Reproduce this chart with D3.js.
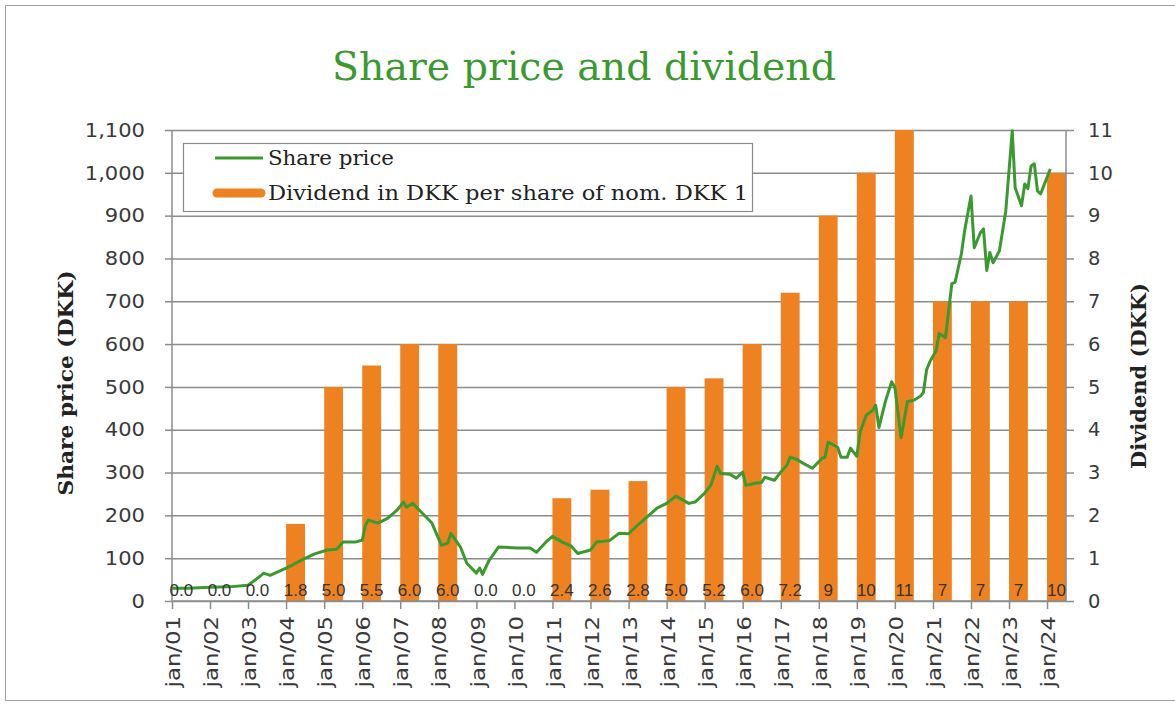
<!DOCTYPE html>
<html><head><meta charset="utf-8">
<script src="https://cdn.jsdelivr.net/npm/d3@7"></script>
<style>body{margin:0;background:#fff;overflow:hidden}</style>
</head><body>
<svg id="c" width="1175" height="708"></svg>
<script>
// ---- data ----
const years = [2001,2002,2003,2004,2005,2006,2007,2008,2009,2010,2011,2012,2013,2014,2015,2016,2017,2018,2019,2020,2021,2022,2023,2024];
const dividends = [0,0,0,1.8,5.0,5.5,6.0,6.0,0,0,2.4,2.6,2.8,5.0,5.2,6.0,7.2,9,10,11,7,7,7,10];
const dividendLabels = ["0.0","0.0","0.0","1.8","5.0","5.5","6.0","6.0","0.0","0.0","2.4","2.6","2.8","5.0","5.2","6.0","7.2","9","10","11","7","7","7","10"];
const xTickLabels = ["jan/01","jan/02","jan/03","jan/04","jan/05","jan/06","jan/07","jan/08","jan/09","jan/10","jan/11","jan/12","jan/13","jan/14","jan/15","jan/16","jan/17","jan/18","jan/19","jan/20","jan/21","jan/22","jan/23","jan/24"];
const leftTicks = [0,100,200,300,400,500,600,700,800,900,1000,1100];
const rightTicks = [0,1,2,3,4,5,6,7,8,9,10,11];
const priceDates = ["2001-01","2001-06","2002-01","2002-07","2003-01","2003-04","2003-06","2003-08","2004-01","2004-03","2004-06","2004-10","2005-02","2005-05","2005-07","2005-11","2006-01","2006-02","2006-03","2006-06","2006-09","2006-12","2007-02","2007-03","2007-05","2007-08","2007-11","2008-02","2008-04","2008-05","2008-08","2008-10","2009-01","2009-02","2009-03","2009-05","2009-08","2010-02","2010-06","2010-08","2010-11","2011-01","2011-04","2011-07","2011-09","2012-01","2012-03","2012-07","2012-10","2013-01","2013-04","2013-07","2013-10","2014-01","2014-04","2014-08","2014-10","2015-01","2015-03","2015-05","2015-06","2015-09","2015-11","2016-01","2016-02","2016-05","2016-07","2016-08","2016-11","2017-01","2017-03","2017-04","2017-06","2017-08","2017-11","2018-02","2018-03","2018-04","2018-07","2018-08","2018-10","2018-11","2019-01","2019-02","2019-04","2019-06","2019-07","2019-08","2019-10","2019-12","2020-01","2020-03","2020-05","2020-07","2020-09","2020-10","2020-11","2020-12","2021-02","2021-03","2021-05","2021-07","2021-08","2021-10","2021-11","2022-01","2022-02","2022-04","2022-05","2022-06","2022-07","2022-08","2022-10","2022-12","2023-02","2023-03","2023-05","2023-06","2023-07","2023-08","2023-09","2023-10","2023-11","2024-02"];
const priceValues = [30,30,32,33,37,53,65,60,77,84,96,110,119,121,138,138,142,177,189,182,193,212,231,219,228,205,182,130,135,158,126,88,65,77,62,94,126,124,124,114,138,151,138,128,111,119,138,141,158,157,178,197,217,228,245,228,231,252,270,315,298,296,287,301,270,275,277,289,282,301,317,336,331,322,310,333,336,371,359,336,336,357,338,394,434,445,457,405,465,512,499,381,466,469,478,487,540,558,585,625,615,741,744,811,865,946,825,860,869,772,814,790,818,911,1098,965,923,974,963,1016,1021,958,951,1009];

// ---- layout ----
const svg = d3.select("#c");
const L = 172, R = 1066, T = 130, B = 601;
const GRID = "#8c8c8c", ORANGE = "#EF8220", GREEN = "#3A9A30", TXT = "#3a3a3a";
const parse = d3.timeParse("%Y-%m");

const x = d3.scaleTime().domain([new Date(2001,0,1), new Date(2024,6,1)]).range([L, R]);
const yL = d3.scaleLinear().domain([0,1100]).range([B, T]);
const yR = d3.scaleLinear().domain([0,11]).range([B, T]);

// outer border
svg.append("rect").attr("x",5.5).attr("y",5.5).attr("width",1190).attr("height",695)
  .attr("fill","none").attr("stroke","#a0a0a0").attr("stroke-width",1);

// title
svg.append("text").attr("x",584).attr("y",80).attr("text-anchor","middle")
  .attr("font-family","DejaVu Serif").attr("font-size",39).attr("fill",GREEN)
  .attr("textLength",504).attr("lengthAdjust","spacingAndGlyphs")
  .text("Share price and dividend");

// gridlines
svg.append("g").attr("transform",`translate(${L},0)`)
  .call(d3.axisLeft(yL).tickValues(leftTicks).tickSize(-(R-L)).tickFormat(""))
  .call(g=>g.select(".domain").remove())
  .call(g=>g.selectAll("line").attr("stroke",GRID).attr("stroke-width",1.5));

// bars
svg.append("g").selectAll("rect").data(years).join("rect")
  .attr("x",(d)=>x(new Date(d,0,1)))
  .attr("width",(d)=>x(new Date(d,6,1))-x(new Date(d,0,1)))
  .attr("y",(d,i)=>yR(dividends[i]))
  .attr("height",(d,i)=>B-yR(dividends[i]))
  .attr("fill",ORANGE);

// left axis
const gl = svg.append("g").attr("transform",`translate(${L},0)`)
  .call(d3.axisLeft(yL).tickValues(leftTicks).tickSize(7).tickPadding(22).tickFormat(d3.format(",")));
gl.select(".domain").attr("stroke",GRID).attr("stroke-width",1.5).attr("d",`M0,${B}V${T}`);
gl.selectAll("line").attr("stroke",GRID).attr("stroke-width",1.5);
gl.selectAll("text").attr("font-family","DejaVu Sans").attr("font-size",19.5).attr("fill",TXT)
  .attr("x",0).attr("transform","translate(-27,0) scale(1.08,1)");

// right axis
const gr = svg.append("g").attr("transform",`translate(${R},0)`)
  .call(d3.axisRight(yR).tickValues(rightTicks).tickSize(8).tickPadding(14));
gr.select(".domain").attr("stroke",GRID).attr("stroke-width",1.5).attr("d",`M0,${B}V${T}`);
gr.selectAll("line").attr("stroke",GRID).attr("stroke-width",1.5);
gr.selectAll("text").attr("font-family","DejaVu Sans").attr("font-size",19.5).attr("fill",TXT);

// bottom axis
const gb = svg.append("g").attr("transform",`translate(0,${B})`)
  .call(d3.axisBottom(x).tickValues(years.map(d=>new Date(d,0,1))).tickSize(8)
    .tickFormat((d,i)=>xTickLabels[i]));
gb.select(".domain").attr("stroke",GRID).attr("stroke-width",1.5).attr("d",`M${L},0H${R}`);
gb.selectAll("line").attr("stroke",GRID).attr("stroke-width",1.5);
gb.selectAll("text").attr("font-family","DejaVu Sans").attr("font-size",19).attr("fill",TXT)
  .attr("text-anchor","end").attr("x",0).attr("y",0).attr("dy","0.35em")
  .attr("transform","translate(1,15) rotate(-90) scale(1.2,1)");

// share price line
const line = d3.line().x((d,i)=>x(parse(priceDates[i]))).y(d=>yL(d));
svg.append("path").datum(priceValues).attr("d",line)
  .attr("fill","none").attr("stroke",GREEN).attr("stroke-width",3).attr("stroke-linejoin","round");

// data labels
svg.append("g").selectAll("text").data(years).join("text")
  .attr("x",(d)=>(x(new Date(d,0,1))+x(new Date(d,6,1)))/2)
  .attr("y",596).attr("text-anchor","middle")
  .attr("font-family","Liberation Sans").attr("font-size",17).attr("fill","#333")
  .text((d,i)=>dividendLabels[i]);

// axis titles
svg.append("text").attr("transform","translate(66,383) rotate(-90)").attr("dy","0.35em")
  .attr("text-anchor","middle").attr("font-family","DejaVu Serif").attr("font-weight","bold")
  .attr("font-size",20.5).attr("fill","#222").attr("textLength",225).attr("lengthAdjust","spacingAndGlyphs")
  .text("Share price (DKK)");
svg.append("text").attr("transform","translate(1139,376) rotate(-90)").attr("dy","0.35em")
  .attr("text-anchor","middle").attr("font-family","DejaVu Serif").attr("font-weight","bold")
  .attr("font-size",20.5).attr("fill","#222").attr("textLength",186).attr("lengthAdjust","spacingAndGlyphs")
  .text("Dividend (DKK)");

// legend
const lg = svg.append("g");
lg.append("rect").attr("x",183.5).attr("y",143.5).attr("width",569).attr("height",68)
  .attr("fill","#fff").attr("stroke",GRID).attr("stroke-width",1.2);
lg.append("line").attr("x1",215).attr("x2",263).attr("y1",158).attr("y2",158)
  .attr("stroke",GREEN).attr("stroke-width",2.8);
lg.append("line").attr("x1",217).attr("x2",261).attr("y1",193).attr("y2",193)
  .attr("stroke",ORANGE).attr("stroke-width",9).attr("stroke-linecap","round");
lg.append("text").attr("x",268).attr("y",158).attr("dy","0.35em")
  .attr("font-family","DejaVu Serif").attr("font-size",20).attr("fill","#222")
  .attr("textLength",126).attr("lengthAdjust","spacingAndGlyphs").text("Share price");
lg.append("text").attr("x",268).attr("y",193).attr("dy","0.35em")
  .attr("font-family","DejaVu Serif").attr("font-size",20).attr("fill","#222")
  .attr("textLength",480).attr("lengthAdjust","spacingAndGlyphs").text("Dividend in DKK per share of nom. DKK 1");
</script>
</body></html>
